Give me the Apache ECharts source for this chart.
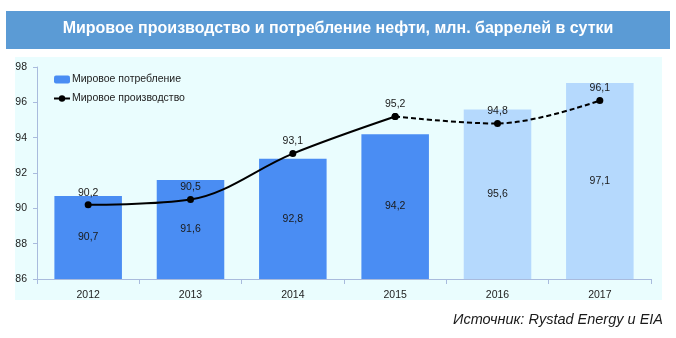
<!DOCTYPE html>
<html><head><meta charset="utf-8">
<script src="https://cdn.jsdelivr.net/npm/echarts@6/dist/echarts.min.js"></script>
<style>html,body{margin:0;padding:0;background:#fff}#c{width:676px;height:338px}</style>
</head><body><div id="c"></div>
<script>
const years = ['2012','2013','2014','2015','2016','2017'];
const consumption = [90.7, 91.6, 92.8, 94.2, 95.6, 97.1];
const production = [90.2, 90.5, 93.1, 95.2, 94.8, 96.1];
const forecast = [false, false, false, false, true, true];
const yTicks = [86, 88, 90, 92, 94, 96, 98];
const titleText = 'Мировое производство и потребление нефти, млн. баррелей в сутки';
const sourceText = 'Источник: Rystad Energy и EIA';

const fmt = v => String(v).replace('.', ',');
const lastActual = forecast.indexOf(true) - 1;
const solidData = production.map((v, i) => (i <= lastActual ? v : null));
const dashData = production.map((v, i) => (i >= lastActual ? v : null));

const chart = echarts.init(document.getElementById('c'));
chart.setOption({
  animation: false,
  textStyle: { fontFamily: 'Liberation Sans, Arial, sans-serif' },
  graphic: [
    { type: 'rect', shape: { x: 6, y: 11, width: 664, height: 38 }, style: { fill: '#5B9BD5' }, z: -10 },
    { type: 'rect', shape: { x: 15, y: 57, width: 647, height: 243 }, style: { fill: '#EAFDFE' }, z: -10 },
    { type: 'text', left: 'center', top: 21, style: { text: titleText, fill: '#fff', font: 'bold 16px "Liberation Sans", Arial, sans-serif' } },
    { type: 'text', right: 13, top: 312, style: { text: sourceText, fill: '#1a1a1a', font: 'italic 14.5px "Liberation Sans", Arial, sans-serif' } }
  ],
  grid: { left: 37, right: 25, top: 67, bottom: 59, containLabel: false },
  legend: {
    orient: 'vertical', left: 53, top: 74, itemWidth: 16, itemHeight: 8, itemGap: 8, padding: 0,
    data: [
      { name: 'Мировое потребление' },
      { name: 'Мировое производство', lineStyle: { type: 'solid', color: '#000', width: 2 }, itemStyle: { color: '#000' } }
    ],
    textStyle: { fontSize: 10.5, color: '#222', padding: [0, 0, 0, -3] }
  },
  xAxis: {
    type: 'category', data: years,
    axisLine: { lineStyle: { color: '#A9BBDD' } },
    axisTick: { show: true, lineStyle: { color: '#A9BBDD' } },
    axisLabel: { fontSize: 10.5, color: '#222', margin: 11 }
  },
  yAxis: {
    type: 'value', min: yTicks[0], max: yTicks[yTicks.length - 1], interval: 2,
    splitLine: { show: false },
    axisLine: { show: true, lineStyle: { color: '#A9BBDD' } },
    axisTick: { show: true, length: 4, lineStyle: { color: '#A9BBDD' } },
    axisLabel: { fontSize: 10.5, color: '#222', margin: 10 }
  },
  series: [
    {
      name: 'Мировое потребление', type: 'bar', barWidth: '66%',
      itemStyle: { color: '#4A8DF3' },
      data: consumption.map((v, i) => ({ value: v, itemStyle: { color: forecast[i] ? '#B5D9FD' : '#4A8DF3' } })),
      label: { show: true, position: 'inside', fontSize: 10.5, color: '#1a1a1a', formatter: p => fmt(p.value) }
    },
    {
      name: 'Мировое производство', type: 'line', smooth: 0.35,
      data: solidData, symbol: 'circle', symbolSize: 7,
      lineStyle: { color: '#000', width: 2 }, itemStyle: { color: '#000' },
      label: { show: true, position: 'top', distance: 3, fontSize: 10.5, color: '#1a1a1a', formatter: p => fmt(p.value) }
    },
    {
      name: 'Прогноз производства', type: 'line', smooth: 0.35,
      data: dashData, symbol: 'circle', symbolSize: 7,
      lineStyle: { color: '#000', width: 2, type: [5, 3] }, itemStyle: { color: '#000' },
      label: { show: true, position: 'top', distance: 3, fontSize: 10.5, color: '#1a1a1a',
        formatter: p => (p.dataIndex > lastActual ? fmt(p.value) : '') }
    }
  ]
});
</script></body></html>
